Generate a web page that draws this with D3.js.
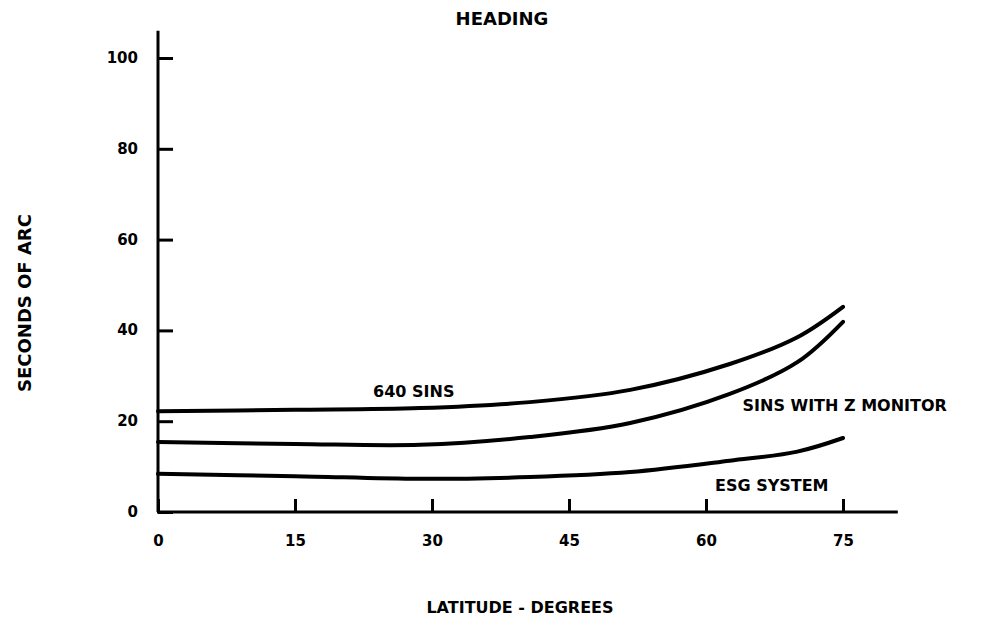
<!DOCTYPE html>
<html>
<head>
<meta charset="utf-8">
<script src="https://cdn.jsdelivr.net/npm/d3@7"></script>
<style>
  body { margin: 0; background: #fff; }
  text { font-family: "DejaVu Sans", sans-serif; font-weight: bold; fill: #000; }
  .line { fill: none; stroke: #000; stroke-width: 4; stroke-linecap: round; }
</style>
</head>
<body>
<script>
// latitude points
var latitude = [0, 15, 28.7, 40.7, 51.7, 62.6, 70, 75];
var sins640  = [22.2, 22.5, 22.9, 24.2, 26.9, 32.6, 38.5, 45.2];
var sinsZ    = [15.4, 15.0, 14.8, 16.5, 19.6, 26.0, 33.0, 41.9];
var esg      = [8.4, 7.9, 7.3, 7.7, 8.8, 11.3, 13.3, 16.3];

var xTicks = [0, 15, 30, 45, 60, 75];
var yTicks = [0, 20, 40, 60, 80, 100];

var width = 983, height = 622;

var x = d3.scaleLinear().domain([0, 75]).range([158, 843]);
var y = d3.scaleLinear().domain([0, 100]).range([512, 58]);

var svg = d3.select("body").append("svg")
    .attr("width", width)
    .attr("height", height);

// axes, ticks pointing inward
var yAxis = svg.append("g")
    .attr("transform", "translate(" + x(0) + ",0)")
    .call(d3.axisLeft(y).tickValues(yTicks).tickSizeInner(-15).tickSizeOuter(0).tickPadding(20));
var xAxis = svg.append("g")
    .attr("transform", "translate(0," + y(0) + ")")
    .call(d3.axisBottom(x).tickValues(xTicks).tickSizeInner(-13).tickSizeOuter(0).tickPadding(23));

[xAxis, yAxis].forEach(function(g) {
  g.select(".domain").remove();
  g.selectAll(".tick line").attr("stroke", "#000").attr("stroke-width", 3);
  g.selectAll(".tick text").style("font-size", "15px").attr("fill", "#000");
});
yAxis.selectAll(".tick text").attr("dy", "0.3em");

// extended axis lines
svg.append("line")
    .attr("x1", x(0)).attr("y1", y(0))
    .attr("x2", x(0)).attr("y2", y(106))
    .attr("stroke", "#000").attr("stroke-width", 3);
svg.append("line")
    .attr("x1", x(0) - 1).attr("y1", y(0))
    .attr("x2", x(81)).attr("y2", y(0))
    .attr("stroke", "#000").attr("stroke-width", 3);

var line = d3.line()
    .x(function(d) { return x(d[0]); })
    .y(function(d) { return y(d[1]); })
    .curve(d3.curveCatmullRom);

[sins640, sinsZ, esg].forEach(function(s) {
  svg.append("path")
      .data([d3.zip(latitude, s)])
      .attr("class", "line")
      .attr("d", line);
});

// curve labels
svg.append("text").attr("x", x(28)).attr("y", y(25.3))
    .attr("text-anchor", "middle").style("font-size", "16px").text("640 SINS");
svg.append("text").attr("x", x(64)).attr("y", y(22.2))
    .style("font-size", "16px").text("SINS WITH Z MONITOR");
svg.append("text").attr("x", x(67.2)).attr("y", y(4.6))
    .attr("text-anchor", "middle").style("font-size", "16px").text("ESG SYSTEM");

// titles
svg.append("text").attr("x", 502).attr("y", 25)
    .attr("text-anchor", "middle").style("font-size", "18px").text("HEADING");
svg.append("text").attr("x", 520).attr("y", 613)
    .attr("text-anchor", "middle").style("font-size", "16px").text("LATITUDE - DEGREES");
svg.append("text")
    .attr("transform", "translate(31,303) rotate(-90)")
    .attr("text-anchor", "middle").style("font-size", "18px").text("SECONDS OF ARC");
</script>
</body>
</html>
